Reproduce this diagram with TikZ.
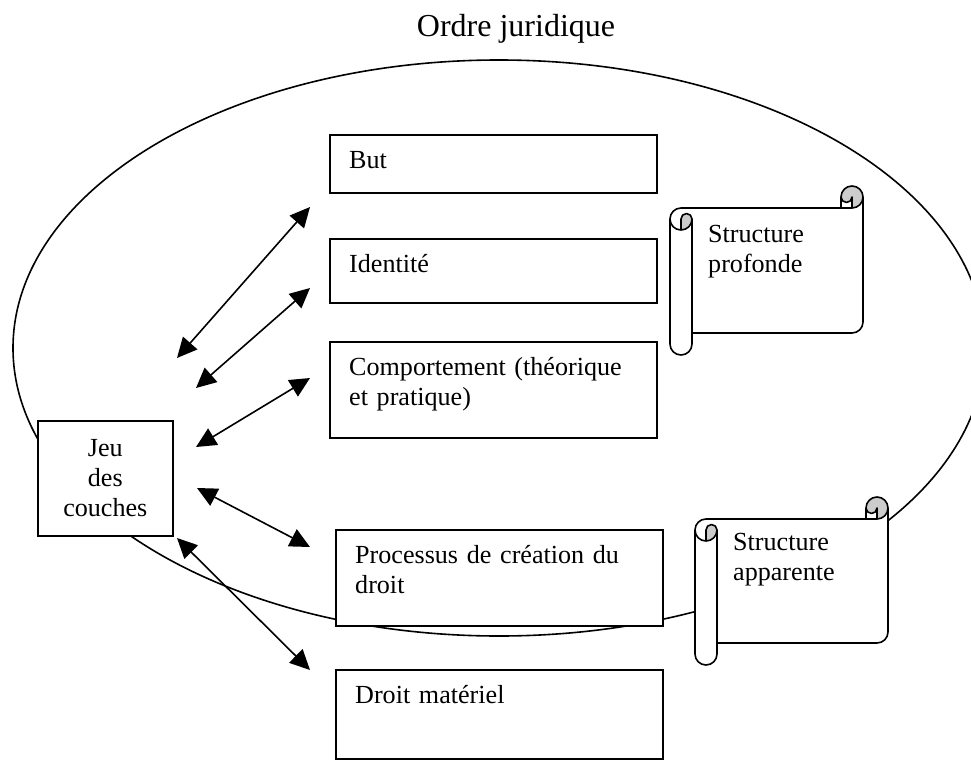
\documentclass[tikz,border=0pt]{standalone}
\usepackage{fontspec}
\setmainfont{Liberation Serif}
\usetikzlibrary{arrows.meta}

\newcommand{\corps}{\fontsize{26.1}{30}\selectfont}

\tikzset{
  couche/.style={draw, line width=1.6pt, fill=white, rectangle, anchor=north west, inner sep=0pt, font=\corps},
  couchetexte/.style={anchor=base west, inner sep=0pt, xshift=20pt, yshift=-34pt, align=left, text width=295pt, font=\corps},
  parchemintexte/.style={anchor=base west, inner sep=0pt, align=left, text width=140pt, font=\corps},
  fleche/.style={line width=1.6pt, {Triangle[length=20pt,width=19pt]}-{Triangle[length=20pt,width=19pt]}},
}

% Parchemin : #1 = gauche, #2 = haut, #3 = droite, #4 = bas
\newcommand{\parchemin}[4]{%
  \pgfmathsetmacro{\pw}{#3-#1}%
  \pgfmathsetmacro{\ph}{#4-#2}%
  \pgfmathsetmacro{\pxa}{\pw-22}%
  \pgfmathsetmacro{\pxb}{\pw-11}%
  \pgfmathsetmacro{\pya}{\ph-33}%
  \pgfmathsetmacro{\pyb}{\ph-22}%
  \pgfmathsetmacro{\pyc}{\ph-11}%
  \begin{scope}[shift={(#1,#2)}, line width=1.6pt, line join=round]
    % fond blanc
    \fill[white] (0,33) arc[start angle=180, delta angle=90, radius=11] -- (\pxa,22) -- (\pxa,11)
      arc[start angle=180, delta angle=180, radius=11] -- (\pw,\pya)
      arc[start angle=0, delta angle=90, radius=11] -- (22,\pyb) -- (22,\pyc)
      arc[start angle=0, delta angle=180, radius=11] -- cycle;
    % enroulements gris
    \fill[black!20] (11,44) arc[start angle=90, delta angle=-90, radius=11]
      arc[start angle=0, delta angle=-180, radius=5.5] -- cycle;
    \fill[black!20] (\pxb,22) arc[start angle=90, delta angle=-270, radius=11]
      arc[start angle=180, delta angle=-180, radius=5.5] -- cycle;
    % contour
    \draw (0,33) arc[start angle=180, delta angle=90, radius=11] -- (\pxa,22) -- (\pxa,11)
      arc[start angle=180, delta angle=180, radius=11] -- (\pw,\pya)
      arc[start angle=0, delta angle=90, radius=11] -- (22,\pyb) -- (22,\pyc)
      arc[start angle=0, delta angle=180, radius=11] -- cycle;
    \draw (\pxa,22) -- (\pxb,22) arc[start angle=90, delta angle=-90, radius=11];
    \draw (\pxb,22) -- (\pxb,11) arc[start angle=0, delta angle=180, radius=5.5];
    \draw (11,44) -- (11,33) arc[start angle=180, delta angle=180, radius=5.5]
      arc[start angle=0, delta angle=180, radius=11];
    \draw (22,33) -- (22,\pyb);
  \end{scope}}

\begin{document}
\begin{tikzpicture}[x=1pt, y=-1pt]
\useasboundingbox (0,0) rectangle (971,760);
\clip (0,0) rectangle (971,760);

% Titre
\node[font=\fontsize{32}{38}\selectfont, anchor=base, inner sep=0pt] (titre) at (516,37) {Ordre juridique};

% Ellipse de l'ordre juridique
\draw[line width=1.6pt] (499,348) ellipse [x radius=486, y radius=288];

% Couches
\node[couche, minimum width=327, minimum height=58, label={[couchetexte]north west:But}] (but) at (329,134) {};
\node[couche, minimum width=327, minimum height=64, label={[couchetexte]north west:Identité}] (identite) at (329,238) {};
\node[couche, minimum width=327, minimum height=96, label={[couchetexte]north west:Comportement (théorique\\et pratique)}] (comportement) at (329,341) {};
\node[couche, minimum width=327, minimum height=96, label={[couchetexte]north west:Processus de création du\\droit}] (processus) at (335,529) {};
\node[couche, minimum width=327, minimum height=89, label={[couchetexte]north west:Droit matériel}] (droit) at (335,669) {};

% Jeu des couches
\node[couche, minimum width=135, minimum height=115, align=center] (jeu) at (37,420) {Jeu\\des\\couches};

% Structure profonde
\parchemin{670}{186}{863}{355}
\node[parchemintexte] (profonde) at (708,242) {Structure\\profonde};

% Structure apparente
\parchemin{695}{497}{888}{665}
\node[parchemintexte] (apparente) at (733,550) {Structure\\apparente};

% Extremites des fleches
\coordinate (g1) at (177,358); \coordinate (d1) at (310,207);
\coordinate (g2) at (196,388); \coordinate (d2) at (310,288);
\coordinate (g3) at (196,447); \coordinate (d3) at (310,378);
\coordinate (g4) at (197,488); \coordinate (d4) at (310,547);
\coordinate (g5) at (177,538); \coordinate (d5) at (310,670);

% Fleches
\draw[fleche] (g1) -- (d1);
\draw[fleche] (g2) -- (d2);
\draw[fleche] (g3) -- (d3);
\draw[fleche] (g4) -- (d4);
\draw[fleche] (g5) -- (d5);
\end{tikzpicture}
\end{document}
